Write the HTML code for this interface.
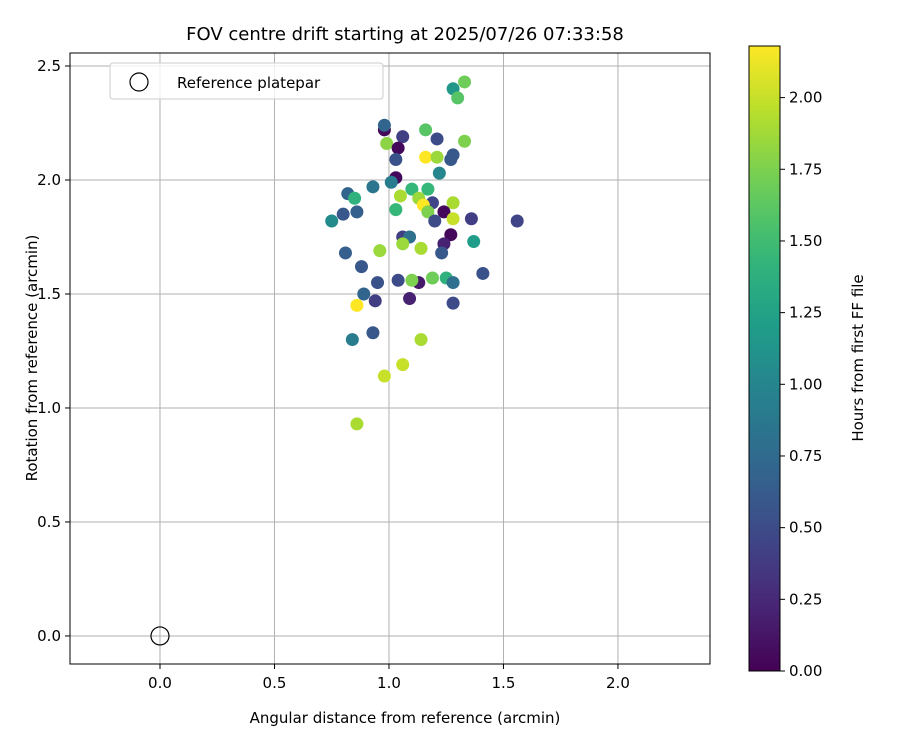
<!DOCTYPE html>
<html><head><meta charset="utf-8"><style>body{margin:0;background:#fff}svg{font-family:"DejaVu Sans","Liberation Sans",sans-serif}</style></head>
<body>
<svg id="c" width="900" height="750"></svg>
<script>
const xs=[1.33,1.28,1.30,0.98,0.98,1.06,1.16,1.21,0.99,1.33,1.04,1.03,1.16,1.21,1.27,1.28,1.22,1.03,1.01,0.93,1.10,1.17,0.82,1.05,0.85,1.13,1.19,1.28,1.15,1.17,1.03,1.24,0.86,0.80,0.75,1.20,1.28,1.36,1.56,1.27,1.06,1.09,1.24,1.37,0.81,0.96,1.06,1.14,1.23,0.88,1.41,0.95,1.04,1.13,1.10,1.19,1.25,1.28,0.89,0.94,1.09,1.28,0.86,0.93,0.84,1.14,1.06,0.98,0.86];
const ys=[2.43,2.40,2.36,2.22,2.24,2.19,2.22,2.18,2.16,2.17,2.14,2.09,2.10,2.10,2.09,2.11,2.03,2.01,1.99,1.97,1.96,1.96,1.94,1.93,1.92,1.92,1.90,1.90,1.89,1.86,1.87,1.86,1.86,1.85,1.82,1.82,1.83,1.83,1.82,1.76,1.75,1.75,1.72,1.73,1.68,1.69,1.72,1.70,1.68,1.62,1.59,1.55,1.56,1.55,1.56,1.57,1.57,1.55,1.50,1.47,1.48,1.46,1.45,1.33,1.30,1.30,1.19,1.14,0.93];
const hours=[1.7,1.15,1.6,0.05,0.7,0.4,1.6,0.5,1.8,1.75,0.05,0.55,2.18,1.85,0.6,0.6,1.0,0.05,0.9,0.85,1.45,1.45,0.7,1.9,1.4,1.85,0.45,1.9,2.18,1.75,1.45,0.05,0.65,0.6,1.05,0.5,2.0,0.4,0.45,0.05,0.4,0.8,0.2,1.2,0.65,1.85,1.85,1.9,0.6,0.6,0.55,0.55,0.5,0.15,1.75,1.7,1.4,0.8,0.7,0.4,0.2,0.5,2.18,0.6,0.9,1.9,2.0,2.0,1.9];
const xTicks=[0.0,0.5,1.0,1.5,2.0], yTicks=[0.0,0.5,1.0,1.5,2.0,2.5], cTicks=[0.00,0.25,0.50,0.75,1.00,1.25,1.50,1.75,2.00];
const L=70,R=710,T=53,B=664,X0=-0.393,X1=2.402,Y0=-0.123,Y1=2.557,CMAX=2.18;
const sx=v=>L+(v-X0)/(X1-X0)*(R-L), sy=v=>B-(v-Y0)/(Y1-Y0)*(B-T);
const vir=[[68,1,84],[72,40,120],[62,74,137],[49,104,142],[38,130,142],[31,158,137],[53,183,121],[109,205,89],[180,222,44],[253,231,37]];
function cm(t){t=Math.max(0,Math.min(1,t))*9;const i=Math.min(8,Math.floor(t)),f=t-i,a=vir[i],b=vir[i+1];return`rgb(${a.map((v,k)=>Math.round(v+(b[k]-v)*f)).join(',')})`;}
const s=document.getElementById('c');const NS='http://www.w3.org/2000/svg';
function E(tag,at,txt){const e=document.createElementNS(NS,tag);for(const k in at)e.setAttribute(k,at[k]);if(txt!=null)e.textContent=txt;s.appendChild(e);return e;}
xTicks.forEach(v=>{const x=sx(v);
let g=E('line',{x1:x,x2:x,y1:T,y2:B,stroke:'#b0b0b0','stroke-width':1});


E('line',{x1:x,x2:x,y1:B,y2:B+5,stroke:'#000'});
let t=E('text',{x:x,y:B+24,'text-anchor':'middle','font-size':15},v.toFixed(1));

});
yTicks.forEach(v=>{const y=sy(v);
let g=E('line',{x1:L,x2:R,y1:y,y2:y,stroke:'#b0b0b0','stroke-width':1});


E('line',{x1:L-5,x2:L,y1:y,y2:y,stroke:'#000'});
let t=E('text',{x:L-9,y:y+5,'text-anchor':'end','font-size':15},v.toFixed(1));

});
xs.forEach((v,i)=>{let c=E('circle',{cx:sx(v),cy:sy(ys[i]),r:6.5,fill:cm(hours[i]/CMAX)});

});
let rc=E('circle',{cx:sx(0),cy:sy(0),r:9,fill:'none',stroke:'#000','stroke-width':1.2});


let fr=E('rect',{x:L,y:T,width:R-L,height:B-T,fill:'none',stroke:'#000','stroke-width':1});


let lg=E('rect',{x:110,y:63,width:273,height:36,rx:3,fill:'#fff','fill-opacity':0.8,stroke:'#ccc'});


E('circle',{cx:139,cy:82,r:9,fill:'none',stroke:'#000','stroke-width':1.2});
let lt=E('text',{x:177,y:88,'font-size':15},'Reference platepar');


let tt=E('text',{x:405,y:40,'text-anchor':'middle','font-size':18},'FOV centre drift starting at 2025/07/26 07:33:58');


let xl=E('text',{x:405,y:723,'text-anchor':'middle','font-size':15},'Angular distance from reference (arcmin)');


let yl=E('text',{x:37,y:358,'text-anchor':'middle','font-size':15,transform:'rotate(-90 37 358)'},'Rotation from reference (arcmin)');


const CL=749,CR=780,CT=46,CB=671;
const df=E('defs',{});const gr=document.createElementNS(NS,'linearGradient');gr.setAttribute('id','vg');gr.setAttribute('x1','0');gr.setAttribute('y1','1');gr.setAttribute('x2','0');gr.setAttribute('y2','0');
for(let i=0;i<=20;i++){const st=document.createElementNS(NS,'stop');st.setAttribute('offset',i/20);st.setAttribute('stop-color',cm(i/20));gr.appendChild(st);}df.appendChild(gr);
let cb=E('rect',{x:CL,y:CT,width:CR-CL,height:CB-CT,fill:'url(#vg)',stroke:'#000','stroke-width':1});


cTicks.forEach(v=>{const y=CB-v/CMAX*(CB-CT);E('line',{x1:CR,x2:CR+5,y1:y,y2:y,stroke:'#000'});
let t=E('text',{x:CR+9,y:y+5,'font-size':15},v.toFixed(2));

});
let cl=E('text',{x:863,y:358,'text-anchor':'middle','font-size':15,transform:'rotate(-90 863 358)'},'Hours from first FF file');


</script>
</body></html>
